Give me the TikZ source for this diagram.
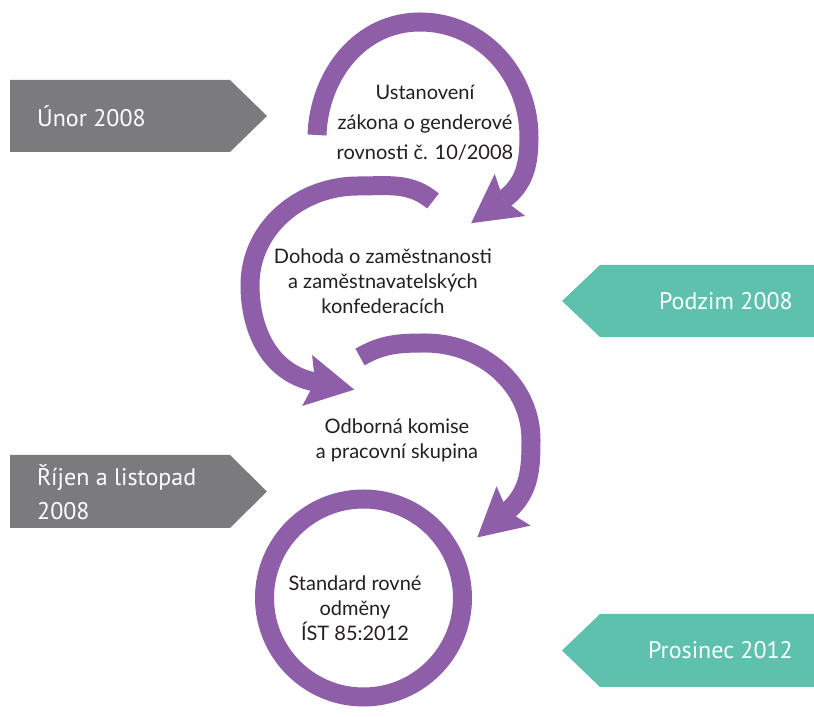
\documentclass[tikz,border=0pt]{standalone}
\usepackage{fontspec}
\setmainfont{Lato}
\newfontfamily\lblfont{PT Sans}
\definecolor{purp}{RGB}{142,94,168}
\definecolor{graylbl}{RGB}{123,123,125}
\definecolor{tealbl}{RGB}{93,193,174}
\definecolor{txt}{RGB}{35,31,32}
\begin{document}
\begin{tikzpicture}[x=1pt,y=1pt,
  band/.style={draw=purp, line width=19pt},
  circtext/.style={align=center, text=txt, inner sep=0pt, font=\fontsize{20}{25}\selectfont},
  lbltext/.style={text=white, inner sep=0pt, font=\lblfont\fontsize{24}{34}\selectfont},
  arrowhd/.pic={\fill[purp] (40,0) -- (-8,26) -- (0,0) -- (-8,-26) -- cycle;}
]
\useasboundingbox (0,0) rectangle (814,717);

% labels
\fill[graylbl] (10,565) -- (10,637) -- (230,637) -- (267,601) -- (230,565) -- cycle;
\node[lbltext, anchor=west] (l1) at (37,601) {Únor 2008};
\fill[tealbl] (814,380) -- (814,452) -- (600,452) -- (562,416) -- (600,380) -- cycle;
\node[lbltext, anchor=east] (l2) at (793,416) {Podzim 2008};
\fill[graylbl] (10,189) -- (10,262) -- (230,262) -- (267,225.5) -- (230,189) -- cycle;
\node[lbltext, anchor=west, align=left] (l3) at (37,225) {Říjen a listopad\\2008};
\fill[tealbl] (814,30) -- (814,103) -- (600,103) -- (562,66.5) -- (600,30) -- cycle;
\node[lbltext, anchor=east] (l4) at (793,66.5) {Prosinec 2012};

% arc 1
\coordinate (s1) at (317,582);
\coordinate (e1) at (503.5,517.3);
\draw[band] (s1) to[out=88,in=180] (420,695) to[out=0,in=90] (529,580) to[out=270,in=36] (e1);
\pic[rotate=216] at (e1) {arrowhd};

% arc 2
\coordinate (s2) at (433,516);
\coordinate (e2) at (315,335);
\draw[band] (s2) to[out=140,in=0] (358,531) to[out=180,in=90] (250,432) to[out=270,in=169] (e2);
\pic[rotate=-11] at (e2) {arrowhd};

% arc 3
\coordinate (s3) at (360,360);
\coordinate (e3) at (507.5,205.8);
\draw[band] (s3) to[out=30,in=180] (425,374) to[out=0,in=90] (531,277) to[out=270,in=41] (e3);
\pic[rotate=221] at (e3) {arrowhd};

% circle 4
\coordinate (c4) at (363.5,119);
\draw[band] (c4) circle[radius=99];

% texts
\node[circtext, font=\fontsize{20}{30}\selectfont] (t1) at (425,594) {Ustanovení\\zákona o genderové\\rovnosti č. 10/2008};
\node[circtext] (t2) at (383,436) {Dohoda o zaměstnanosti\\a zaměstnavatelských\\konfederacích};
\node[circtext] (t3) at (397,277) {Odborná komise\\a pracovní skupina};
\node[circtext] (t4) at (355,109) {Standard rovné\\odměny\\ÍST 85:2012};
\end{tikzpicture}
\end{document}
